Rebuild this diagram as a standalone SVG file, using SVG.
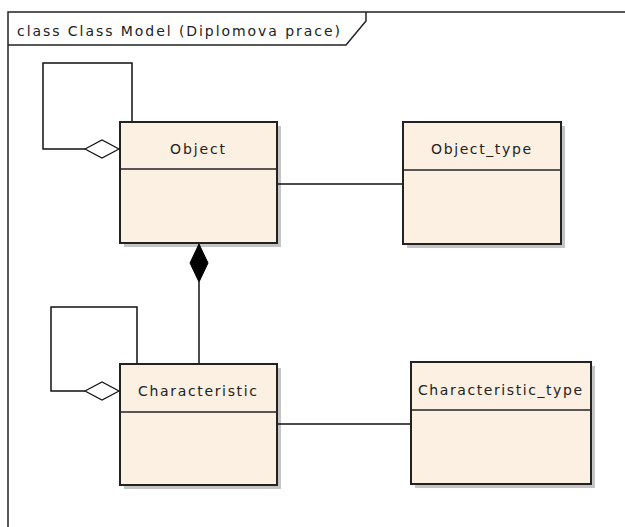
<svg xmlns="http://www.w3.org/2000/svg" width="625" height="527" viewBox="0 0 625 527">
<style>
.frame{fill:none;stroke:#222;stroke-width:1.5}
.shadow{fill:#c4c4c4}
.box{fill:#FBF0E2;stroke:#222;stroke-width:2}
.div{stroke:#222;stroke-width:1.5}
.lbl{font-family:"DejaVu Sans","Liberation Sans",sans-serif;font-size:14px;fill:#222}
.conn{fill:none;stroke:#111;stroke-width:1.5}
.odia{fill:#fff;stroke:#111;stroke-width:1.2}
.fdia{fill:#000;stroke:#000;stroke-width:1}
</style>
<rect width="625" height="527" fill="#fff"/>
<g id="frame">
<path class="frame" d="M8,527 V12 H625"/>
<path class="frame" d="M8,45 H346 L366,21 V12"/>
<text class="lbl" x="17" y="36" textLength="323" lengthAdjust="spacing">class Class Model (Diplomova prace)</text>
</g>
<g id="Object">
<rect class="shadow" x="124" y="126" width="157" height="121"/>
<rect class="box" x="120" y="122" width="157" height="121"/>
<line class="div" x1="120" y1="169" x2="277" y2="169"/>
<text class="lbl" x="170" y="154" textLength="55" lengthAdjust="spacing">Object</text>
</g>
<g id="Object_type">
<rect class="shadow" x="407" y="126" width="158" height="122"/>
<rect class="box" x="403" y="122" width="158" height="122"/>
<line class="div" x1="403" y1="170" x2="561" y2="170"/>
<text class="lbl" x="431" y="154" textLength="100" lengthAdjust="spacing">Object_type</text>
</g>
<g id="Characteristic">
<rect class="shadow" x="124" y="368" width="157" height="121"/>
<rect class="box" x="120" y="364" width="157" height="121"/>
<line class="div" x1="120" y1="412" x2="277" y2="412"/>
<text class="lbl" x="138" y="396" textLength="119" lengthAdjust="spacing">Characteristic</text>
</g>
<g id="Characteristic_type">
<rect class="shadow" x="415" y="366" width="180" height="122"/>
<rect class="box" x="411" y="362" width="180" height="122"/>
<line class="div" x1="411" y1="410" x2="591" y2="410"/>
<text class="lbl" x="418" y="395" textLength="164" lengthAdjust="spacing">Characteristic_type</text>
</g>
<g id="connectors">
<path class="conn" d="M132,121 V63 H43 V149 H85"/>
<path class="odia" d="M85,149 L102,140 L119,149 L102,158 Z"/>
<path class="conn" d="M137,363 V307 H51 V391 H85"/>
<path class="odia" d="M85,391 L102,382 L119,391 L102,400 Z"/>
<path class="conn" d="M199,282 V363"/>
<path class="fdia" d="M199,244 L208,263 L199,282 L190,263 Z"/>
<path class="conn" d="M278,184 H402"/>
<path class="conn" d="M278,424 H410"/>
</g>
</svg>
